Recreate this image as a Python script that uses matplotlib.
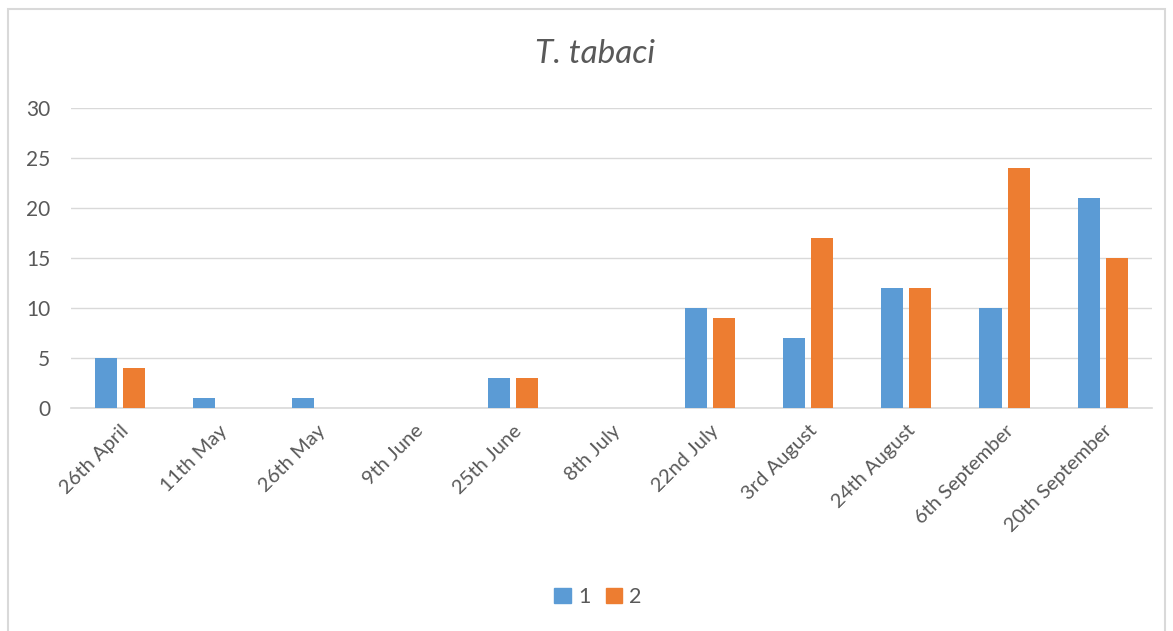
import matplotlib
matplotlib.use('Agg')
import matplotlib.pyplot as plt
import numpy as np
from matplotlib.patches import Rectangle, Patch

dates = ['26th April', '11th May', '26th May', '9th June', '25th June', '8th July',
         '22nd July', '3rd August', '24th August', '6th September', '20th September']
series_1 = [5, 1, 1, 0, 3, 0, 10, 7, 12, 10, 21]
series_2 = [4, 0, 0, 0, 3, 0, 9, 17, 12, 24, 15]

blue = '#5B9BD5'
orange = '#ED7D31'
txt = '#595959'

plt.rcParams['font.family'] = ['Lato', 'DejaVu Sans']

W, H = 1173, 631
fig = plt.figure(figsize=(W / 100, H / 100), dpi=100)
# chart border
fig.patches.append(Rectangle((8 / W, -0.05), (1165 - 8) / W, 1.05 - 9 / H,
                             transform=fig.transFigure, fill=False,
                             edgecolor='#D9D9D9', linewidth=1.5))

ax = fig.add_axes([71 / W, 1 - 408 / H, (1152 - 71) / W, 300 / H])
x = np.arange(len(dates))
w = 0.225
ax.bar(x - 0.143, series_1, w, color=blue, label='1', zorder=3)
ax.bar(x + 0.143, series_2, w, color=orange, label='2', zorder=3)

ax.set_xlim(-0.5, len(dates) - 0.5)
ax.set_ylim(0, 30)
ax.set_yticks(range(0, 31, 5))
ax.grid(axis='y', color='#D9D9D9', linewidth=1, zorder=0)
for s in ['top', 'right', 'left']:
    ax.spines[s].set_visible(False)
ax.spines['bottom'].set_color('#D9D9D9')
ax.spines['bottom'].set_linewidth(1.2)
ax.tick_params(axis='both', length=0, colors=txt)
ax.tick_params(axis='y', labelsize=15, pad=15)
ax.set_xticks(x)
ax.set_xticklabels(dates, rotation=45, ha='right', rotation_mode='anchor', fontsize=14.5)
ax.tick_params(axis='x', pad=10)

fig.text(595 / W, 1 - 54 / H, 'T. tabaci', ha='center', va='center',
         fontsize=24, style='italic', color=txt)

handles = [Patch(color=blue, label='1'), Patch(color=orange, label='2')]
fig.legend(handles=handles, loc='center', bbox_to_anchor=(598 / W, 1 - 597 / H),
           ncol=2, frameon=False, fontsize=15.5, labelcolor=txt,
           handlelength=0.75, handleheight=0.75, handletextpad=0.35, columnspacing=0.7)

fig.savefig('out.png', dpi=100)
